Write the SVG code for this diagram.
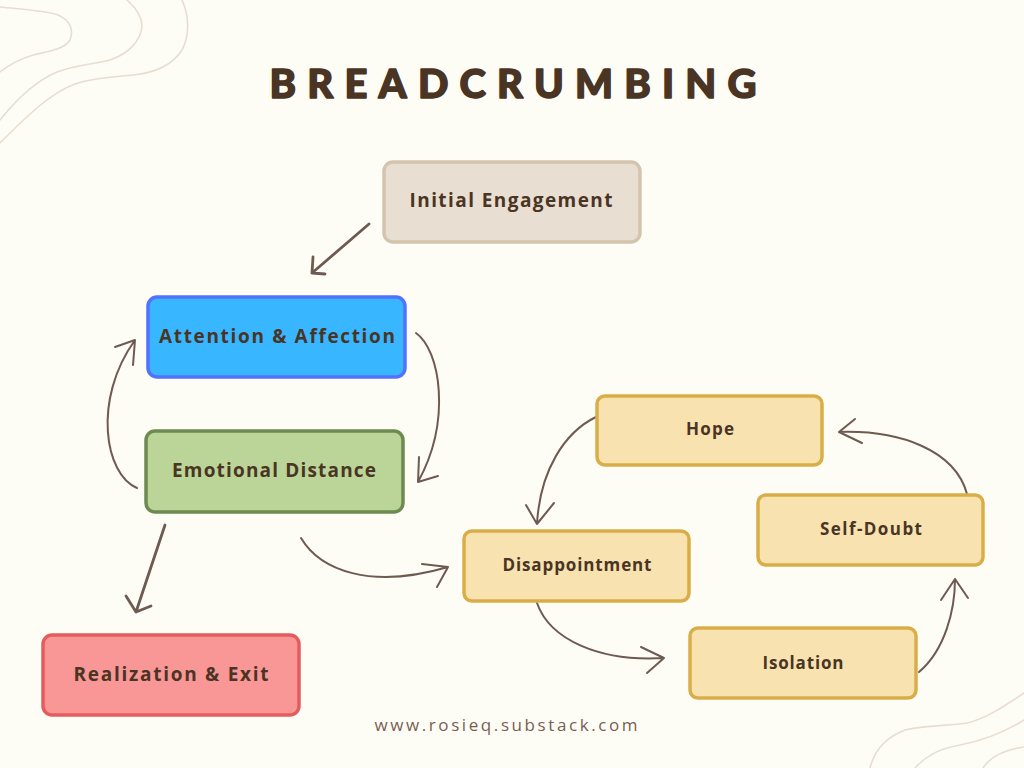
<svg xmlns="http://www.w3.org/2000/svg" width="1024" height="768" viewBox="0 0 1024 768">
<defs>
<style>
.deco{fill:none;stroke:#e8ddd0;stroke-width:1.6;stroke-linecap:round}
.box{stroke-width:3.5;stroke-linejoin:round}
.lbl{font-family:"Open Sans",Lato,"Liberation Sans",sans-serif;font-weight:bold;fill:#4a3424;text-anchor:middle;font-variant-ligatures:none}
.big{font-size:19px}
.sm{font-size:17px}
.con{fill:none;stroke:#6f5a52;stroke-width:2;stroke-linecap:round;stroke-linejoin:round}
.thick{stroke-width:2.8}
.beige{fill:#e8dfd2;stroke:#d3c4b0}
.blue{fill:#38b6ff;stroke:#5271ff}
.green{fill:#bad597;stroke:#6d8a50}
.red{fill:#f99696;stroke:#e35d5f}
.yel{fill:#f8e2b0;stroke:#d9ae48}
</style>
</defs>
<rect width="1024" height="768" fill="#fdfdf6"/>
<g id="decor">
<path class="deco" d="M0,7 C30,10 48,11 58,15 C70,20 74,30 70,40 C64,50 45,52 33,55 C20,59 10,64 0,72"/>
<path class="deco" d="M127,0 C136,8 142,17 142,26 C141,40 130,53 110,60 C95,64 75,65 57,72 C38,80 20,95 0,120"/>
<path class="deco" d="M182,0 C189,15 190,35 182,50 C172,66 152,73 133,75 C115,77 95,77 75,84 C50,93 25,118 0,143"/>
<path class="deco" d="M870,768 C874,752 884,738 905,730 C925,725 950,726 967,723 C985,719 1005,706 1024,693"/>
<path class="deco" d="M915,768 C925,757 937,749 960,745 C980,741 1000,735 1024,720"/>
<path class="deco" d="M983,768 C990,757 1003,750 1024,747"/>
</g>
<text id="title" x="513" y="98" font-family="Lato,'Open Sans','Liberation Sans',sans-serif" font-weight="900" font-size="40" fill="#4a3424" stroke="#4a3424" stroke-width="1.5" stroke-linejoin="round" text-anchor="middle" textLength="487" lengthAdjust="spacing">BREADCRUMBING</text>
<g id="connectors">
<path class="con thick" d="M369,224 L312,273 M313,257 L312,273 L325,274"/>
<path class="con" d="M416,333 C440,350 452,420 418,482 M419,457 L418,482 L438,476"/>
<path class="con" d="M137,488 C105,475 92,400 135,340 M115,347 L135,340 L133,365"/>
<path class="con thick" d="M165,525 L136,612 M126,596 L136,612 L151,606"/>
<path class="con" d="M301,538 C320,570 370,590 448,567 M422,564 L448,567 L437,587"/>
<path class="con" d="M596,417 C565,432 540,470 537,524 M526,505 L537,524 L554,503"/>
<path class="con" d="M537,603 C550,640 600,662 664,658 M641,647 L664,658 L647,673"/>
<path class="con" d="M919,672 C945,650 955,610 955,579 M941,600 L955,579 L968,598"/>
<path class="con" d="M967,494 C955,450 900,430 839,432 M855,419 L839,432 L862,443"/>
</g>
<g id="initial-engagement">
<rect class="box beige" x="384" y="162" width="256" height="80" rx="9"/>
<text class="lbl big" x="511" y="207" textLength="203" lengthAdjust="spacing">Initial Engagement</text>
</g>
<g id="attention-affection">
<rect class="box blue" x="148" y="297" width="257" height="80" rx="9"/>
<text class="lbl big" x="277" y="343" textLength="236" lengthAdjust="spacing">Attention &amp; Affection</text>
</g>
<g id="emotional-distance">
<rect class="box green" x="146" y="431" width="257" height="81" rx="9"/>
<text class="lbl big" x="274" y="477" textLength="204" lengthAdjust="spacing">Emotional Distance</text>
</g>
<g id="realization-exit">
<rect class="box red" x="43" y="635" width="256" height="80" rx="9"/>
<text class="lbl big" x="171" y="681" textLength="195" lengthAdjust="spacing">Realization &amp; Exit</text>
</g>
<g id="hope">
<rect class="box yel" x="597" y="396" width="225" height="69" rx="8"/>
<text class="lbl sm" x="710" y="435" textLength="48" lengthAdjust="spacing">Hope</text>
</g>
<g id="disappointment">
<rect class="box yel" x="464" y="531" width="225" height="70" rx="8"/>
<text class="lbl sm" x="577" y="571" textLength="149" lengthAdjust="spacing">Disappointment</text>
</g>
<g id="self-doubt">
<rect class="box yel" x="758" y="495" width="225" height="70" rx="8"/>
<text class="lbl sm" x="871" y="535" textLength="102" lengthAdjust="spacing">Self-Doubt</text>
</g>
<g id="isolation">
<rect class="box yel" x="690" y="628" width="226" height="70" rx="8"/>
<text class="lbl sm" x="803" y="669" textLength="81" lengthAdjust="spacing">Isolation</text>
</g>
<text id="url" x="506" y="731" font-family="'Open Sans',Lato,'Liberation Sans',sans-serif" font-size="17" fill="#7a5d52" text-anchor="middle" textLength="263" lengthAdjust="spacing">www.rosieq.substack.com</text>
</svg>
